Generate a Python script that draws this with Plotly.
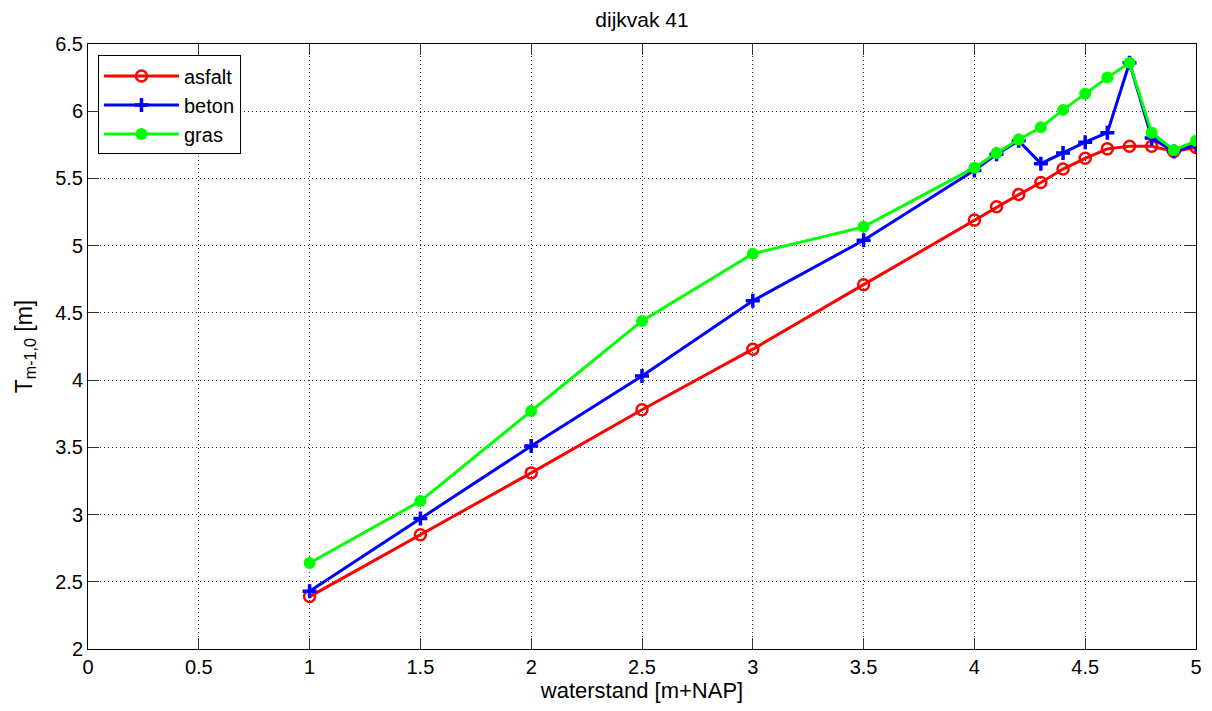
import plotly.graph_objects as go

# waterstand [m+NAP]
waterstand = [1.0, 1.5, 2.0, 2.5, 3.0, 3.5, 4.0, 4.1, 4.2, 4.3, 4.4, 4.5, 4.6, 4.7, 4.8, 4.9, 5.0]

# Tm-1,0 [m] per bekleding
asfalt = [2.39, 2.85, 3.31, 3.78, 4.23, 4.71, 5.19, 5.29, 5.38, 5.47, 5.57, 5.65, 5.72, 5.74, 5.74, 5.70, 5.73]
beton = [2.43, 2.97, 3.51, 4.03, 4.59, 5.04, 5.56, 5.68, 5.78, 5.61, 5.69, 5.77, 5.84, 6.36, 5.80, 5.70, 5.75]
gras = [2.64, 3.10, 3.77, 4.44, 4.94, 5.14, 5.58, 5.69, 5.79, 5.88, 6.01, 6.13, 6.25, 6.36, 5.84, 5.71, 5.78]

x_ticks = [0, 0.5, 1, 1.5, 2, 2.5, 3, 3.5, 4, 4.5, 5]
y_ticks = [2, 2.5, 3, 3.5, 4, 4.5, 5, 5.5, 6, 6.5]

FONT = "Liberation Sans, Arial, sans-serif"

fig = go.Figure()
fig.add_trace(go.Scatter(
    x=waterstand, y=asfalt, name="asfalt", mode="lines+markers",
    line=dict(color="#ff0000", width=3),
    marker=dict(symbol="circle-open", size=11, color="#ff0000", line=dict(width=2.5)),
))
fig.add_trace(go.Scatter(
    x=waterstand, y=beton, name="beton", mode="lines+markers",
    line=dict(color="#0000ff", width=3),
    marker=dict(symbol="cross-thin-open", size=10, color="#0000ff", line=dict(width=3.5, color="#0000ff")),
))
fig.add_trace(go.Scatter(
    x=waterstand, y=gras, name="gras", mode="lines+markers",
    line=dict(color="#00ff00", width=3),
    marker=dict(symbol="circle", size=12, color="#00ff00"),
))

axis_common = dict(
    showline=True, linecolor="black", linewidth=1, mirror="ticks",
    ticks="inside", ticklen=11, tickcolor="#333333", tickwidth=1,
    showgrid=True, gridcolor="#333333", griddash="1px,3px", gridwidth=1,
    zeroline=False,
    tickfont=dict(family=FONT, size=20, color="black"),
)

fig.update_xaxes(
    range=[0, 5], tickvals=x_ticks, ticktext=[f"{v:g}" for v in x_ticks],
    title=dict(text="waterstand [m+NAP]", font=dict(family=FONT, size=22, color="black"), standoff=2),
    **axis_common,
)
fig.update_yaxes(
    range=[2, 6.5], tickvals=y_ticks, ticktext=[f"{v:g}" for v in y_ticks],
    title=dict(text="T<sub>m-1,0</sub> [m]", font=dict(family=FONT, size=23, color="black"), standoff=16),
    **axis_common,
)

fig.update_layout(
    width=1212, height=711,
    margin=dict(l=88, r=10, t=44, b=62),
    paper_bgcolor="white", plot_bgcolor="white",
    title=dict(text="dijkvak 41", x=0.5, xref="paper", xanchor="center",
               y=0.972, yanchor="middle",
               font=dict(family=FONT, size=21, color="black")),
    font=dict(family=FONT, size=20, color="black"),
    legend=dict(
        x=0.009, y=0.981, xanchor="left", yanchor="top",
        bgcolor="white", bordercolor="black", borderwidth=1,
        font=dict(family=FONT, size=20, color="black"),
        tracegroupgap=0, itemwidth=75,
    ),
    showlegend=True,
)

fig.write_html("out.html")
